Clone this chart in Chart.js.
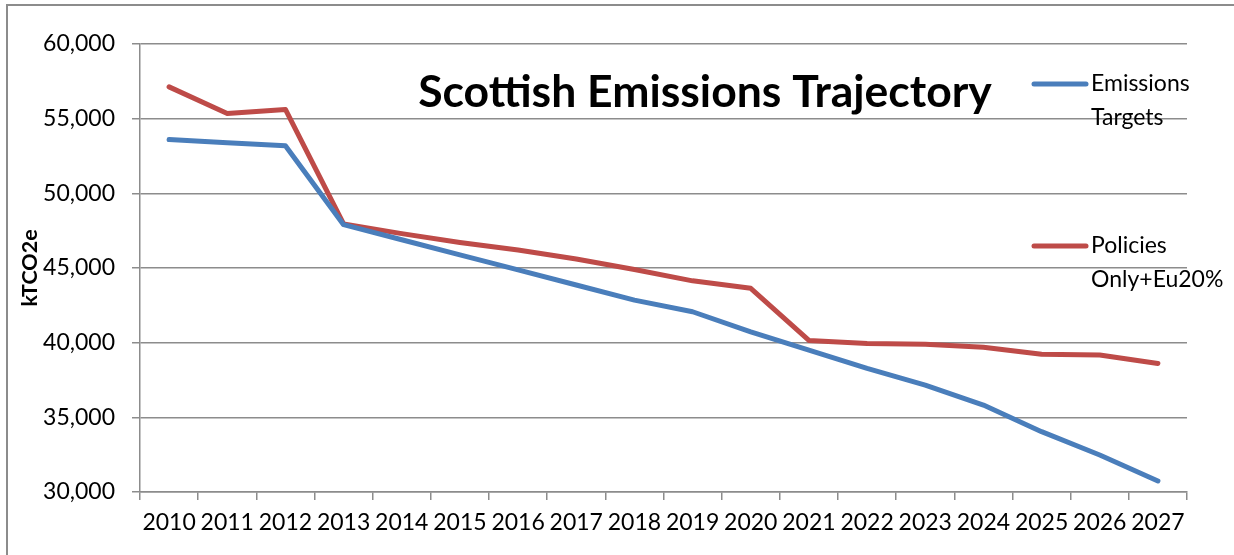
<!DOCTYPE html>
<html>
<head>
<meta charset="utf-8">
<script src="https://cdn.jsdelivr.net/npm/chart.js@4.4.1/dist/chart.umd.min.js"></script>
<style>
    html, body { margin: 0; padding: 0; background: #ffffff; overflow: hidden; }
    #frame { position: absolute; left: 6px; top: 4px; width: 1300px; height: 600px; border: 2px solid #8c8c8c; }
    #myChart { position: absolute; left: 0; top: 0; }
</style>
</head>
<body>
<div id="frame"></div>
<canvas id="myChart" width="1234" height="555"></canvas>
<script>
var years = ['2010', '2011', '2012', '2013', '2014', '2015', '2016', '2017', '2018',
    '2019', '2020', '2021', '2022', '2023', '2024', '2025', '2026', '2027'];

var emissionsTargets = [53600, 53380, 53180, 47900, 46890, 45880, 44870, 43860, 42850,
    42070, 40730, 39500, 38280, 37160, 35820, 34040, 32480, 30740];

var policiesOnly = [57130, 55350, 55620, 47950, 47300, 46710, 46200, 45600, 44900,
    44140, 43640, 40150, 39950, 39890, 39690, 39220, 39170, 38610];

var seriesNames = ['Emissions Targets', 'Policies Only+Eu20%'];
var chartTitle = 'Scottish Emissions Trajectory';
var yAxisTitle = 'kTCO2e';

var blue = '#4a7ebb';
var red = '#be4b48';
var gridColor = '#8c8c8c';
var fontName = 'Lato, "Open Sans", sans-serif';

// titel + legende worden in het plotgebied getekend, zoals in Excel
var overlayPlugin = {
    id: 'overlay',
    afterDraw: function(chart) {
        var ctx = chart.ctx;
        ctx.save();
        ctx.fillStyle = '#000000';
        ctx.font = 'bold 44.5px ' + fontName;
        ctx.textAlign = 'center';
        ctx.textBaseline = 'middle';
        ctx.fillText(chartTitle, 705, 93);

        var rows = [84, 246];
        chart.data.datasets.forEach(function(ds, i) {
            var y = rows[i];
            ctx.strokeStyle = ds.borderColor;
            ctx.lineWidth = 5;
            ctx.lineCap = 'round';
            ctx.beginPath();
            ctx.moveTo(1034, y);
            ctx.lineTo(1086, y);
            ctx.stroke();

            ctx.fillStyle = '#000000';
            ctx.font = '23px ' + fontName;
            ctx.textAlign = 'left';
            ctx.textBaseline = 'middle';
            var parts = ds.label.split(' ');
            for (var j = 0; j < parts.length; j++) {
                ctx.fillText(parts[j], 1091, y + j * 34);
            }
        });
        ctx.restore();
    }
};

var ctx = document.getElementById('myChart').getContext('2d');
var myChart = new Chart(ctx, {
    type: 'line',
    data: {
        labels: years,
        datasets: [{
            label: seriesNames[0],
            data: emissionsTargets,
            borderColor: blue,
            backgroundColor: blue,
            borderWidth: 5,
            pointRadius: 0,
            borderCapStyle: 'round',
            borderJoinStyle: 'round',
            tension: 0
        }, {
            label: seriesNames[1],
            data: policiesOnly,
            borderColor: red,
            backgroundColor: red,
            borderWidth: 5,
            pointRadius: 0,
            borderCapStyle: 'round',
            borderJoinStyle: 'round',
            tension: 0
        }]
    },
    options: {
        responsive: false,
        animation: false,
        layout: {
            padding: { top: 44, right: 47, left: 0, bottom: 0 }
        },
        plugins: {
            legend: { display: false },
            tooltip: { enabled: false }
        },
        scales: {
            x: {
                offset: true,
                grid: {
                    offset: true,
                    drawOnChartArea: false,
                    color: gridColor,
                    lineWidth: 1.5,
                    tickLength: 8
                },
                border: { color: gridColor, width: 1.5 },
                ticks: {
                    color: '#000000',
                    font: { family: fontName, size: 23 },
                    padding: 9,
                    maxRotation: 0,
                    autoSkip: false
                },
                afterFit: function(scale) { scale.height = 63; }
            },
            y: {
                min: 30000,
                max: 60000,
                grid: {
                    color: gridColor,
                    lineWidth: 1.5,
                    tickLength: 8
                },
                border: { color: gridColor, width: 1.5 },
                ticks: {
                    stepSize: 5000,
                    color: '#000000',
                    font: { family: fontName, size: 23 },
                    padding: 17,
                    callback: function(value) { return value.toLocaleString('en-US'); }
                },
                title: {
                    display: true,
                    text: yAxisTitle,
                    color: '#000000',
                    font: { family: fontName, size: 21.5, weight: 'bold' },
                    padding: { top: 17, bottom: 0 }
                },
                afterFit: function(scale) { scale.width = 140; }
            }
        }
    },
    plugins: [overlayPlugin]
});
</script>
</body>
</html>
